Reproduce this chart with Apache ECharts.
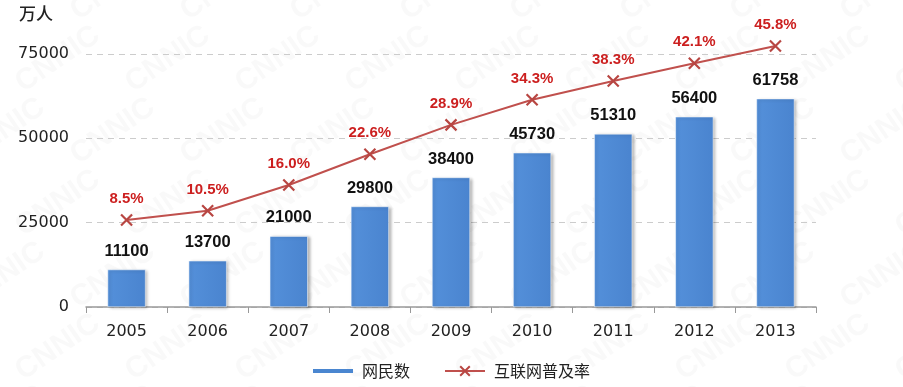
<!DOCTYPE html>
<html><head><meta charset="utf-8">
<script src="https://cdn.jsdelivr.net/npm/echarts@6/dist/echarts.min.js"></script>
<style>html,body{margin:0;padding:0;background:#fff}#c{width:903px;height:387px}</style>
</head><body><div id="c"></div>
<script>
const years = ['2005','2006','2007','2008','2009','2010','2011','2012','2013'];
const netizens = [11100,13700,21000,29800,38400,45730,51310,56400,61758];
const penetration = [8.5,10.5,16.0,22.6,28.9,34.3,38.3,42.1,45.8];
const yTicks = [0,25000,50000,75000];

const chart = echarts.init(document.getElementById('c'));
const wm = [];
for (let r = -1; r < 6; r++) {
  for (let c = -1; c < 9; c++) {
    wm.push({type:'text', left: c*110 + (r%2)*55 + 10, top: r*72 + 20, rotation: 0.6, z: -10,
      style:{text:'CNNIC', fill:'rgba(150,150,150,0.06)', font:'bold 30px "Liberation Sans", Arial'}});
  }
}
chart.setOption({
  animation:false,
  textStyle:{fontFamily:'"DejaVu Sans", sans-serif'},
  graphic: wm.concat([{type:'text', left:19, top:5, style:{text:'万人', fill:'#222', font:'500 17px "Noto Sans CJK SC"'}}]),
  grid:{left:86, right:87, top:54, bottom:80},
  legend:{bottom:3, left:'center', itemGap:34, textStyle:{fontSize:16, color:'#222', fontFamily:'"Noto Sans CJK SC"', padding:[0,0,0,4]},
    data:[{name:'网民数', icon:'path://M0,0L0,0M0,12L0,12M0,4L40,4L40,8L0,8Z', itemStyle:{color:'#4a86d0', borderWidth:0, shadowBlur:0}}, {name:'互联网普及率'}], itemWidth:40, itemHeight:12},
  xAxis:{type:'category', data:years,
    axisLine:{lineStyle:{color:'#999', width:1.5}},
    axisTick:{show:true, length:6, lineStyle:{color:'#999'}},
    axisLabel:{fontSize:16, color:'#222', margin:17, fontFamily:'"DejaVu Sans"'}},
  yAxis:[{type:'value', min:0, max:75000, interval:25000,
    axisLine:{show:false}, axisTick:{show:false},
    axisLabel:{fontSize:16, color:'#222', margin:17, fontFamily:'"DejaVu Sans"', formatter:v=>yTicks.includes(v)?String(v):''},
    splitLine:{lineStyle:{type:[6,5], color:'#ccc'}}},
   {type:'value', min:-10.14, max:44.09, show:false, splitLine:{show:false}}],
  series:[
    {name:'网民数', type:'bar', data:netizens, barWidth:38,
     itemStyle:{color:new echarts.graphic.LinearGradient(0,0,1,0,[{offset:0,color:'#5490da'},{offset:1,color:'#4a84cf'}]),
       borderColor:'#fff', borderWidth:0.5, shadowColor:'rgba(0,0,0,0.3)', shadowBlur:3, shadowOffsetX:2, shadowOffsetY:1},
     label:{show:true, position:'top', distance:10, fontSize:16.5, fontWeight:'bold', color:'#111', fontFamily:'"Liberation Sans"'}},
    {name:'互联网普及率', type:'line', yAxisIndex:1, data:penetration, clip:false,
     symbol:'path://M0,0L10,10M10,0L0,10', symbolSize:11,
     lineStyle:{color:'#c0504d', width:2},
     itemStyle:{color:'#c0504d', borderColor:'#b84642', borderWidth:2.2},
     label:{show:true, position:'top', distance:7, fontSize:15, fontWeight:'bold', color:'#cc1f1f', fontFamily:'"Liberation Sans"', formatter:p=>p.value.toFixed(1)+'%'}}
  ]
});
</script></body></html>
